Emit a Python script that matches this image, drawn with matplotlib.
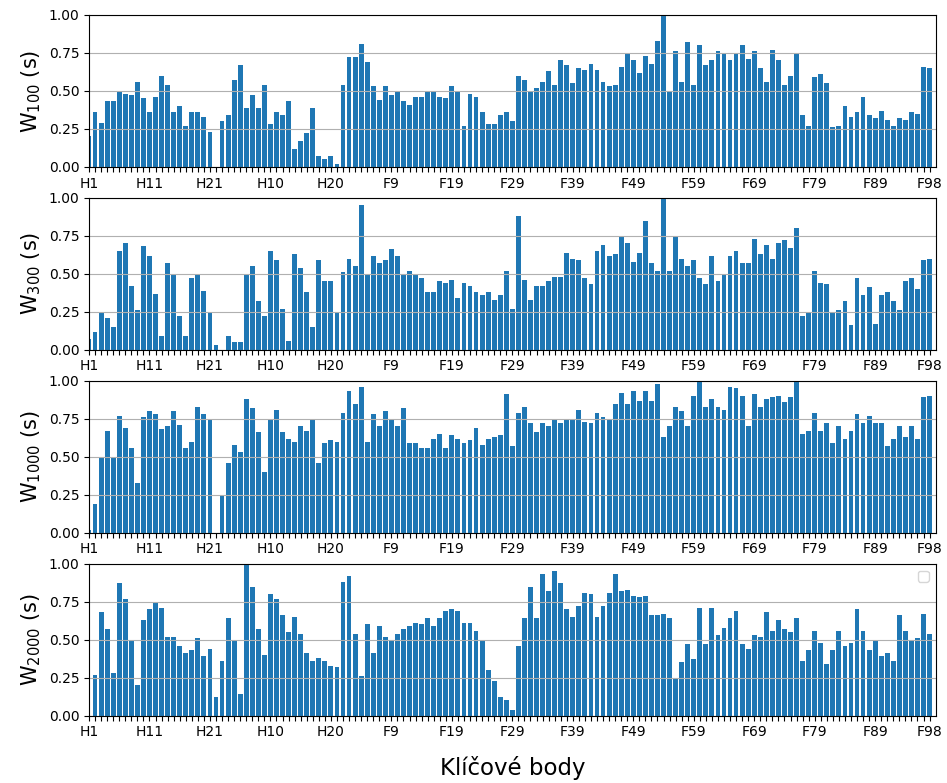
import matplotlib
matplotlib.use("Agg")
import matplotlib.pyplot as plt

# key point names: two hand groups H1-H21, then face points F1-F98
points = [f"H{i}" for i in range(1, 22)] * 2 + [f"F{i}" for i in range(1, 99)]

w100 = [0.20, 0.36, 0.29, 0.43, 0.43, 0.49, 0.48, 0.47, 0.56, 0.45,
        0.36, 0.46, 0.60, 0.54, 0.36, 0.40, 0.27, 0.36, 0.36, 0.33,
        0.23, 0.00, 0.30, 0.34, 0.57, 0.67, 0.39, 0.47, 0.39, 0.54,
        0.28, 0.36, 0.34, 0.43, 0.12, 0.17, 0.22, 0.39, 0.07, 0.05,
        0.07, 0.02, 0.54, 0.72, 0.72, 0.81, 0.69, 0.53, 0.44, 0.53,
        0.47, 0.49, 0.43, 0.41, 0.46, 0.46, 0.49, 0.49, 0.46, 0.45,
        0.53, 0.49, 0.27, 0.48, 0.46, 0.36, 0.28, 0.28, 0.34, 0.36,
        0.30, 0.60, 0.57, 0.50, 0.52, 0.56, 0.63, 0.54, 0.70, 0.67,
        0.55, 0.65, 0.64, 0.68, 0.64, 0.56, 0.53, 0.54, 0.66, 0.74,
        0.70, 0.62, 0.73, 0.68, 0.83, 1.00, 0.50, 0.76, 0.56, 0.82,
        0.54, 0.80, 0.67, 0.70, 0.76, 0.74, 0.70, 0.75, 0.80, 0.71,
        0.76, 0.65, 0.56, 0.77, 0.70, 0.54, 0.60, 0.74, 0.34, 0.27,
        0.59, 0.61, 0.55, 0.26, 0.27, 0.40, 0.33, 0.36, 0.46, 0.34,
        0.32, 0.37, 0.31, 0.27, 0.32, 0.31, 0.36, 0.35, 0.66, 0.65]

w300 = [0.07, 0.12, 0.25, 0.21, 0.15, 0.65, 0.70, 0.42, 0.26, 0.68,
        0.62, 0.37, 0.09, 0.57, 0.50, 0.22, 0.09, 0.47, 0.49, 0.39,
        0.25, 0.03, 0.00, 0.09, 0.05, 0.05, 0.50, 0.55, 0.32, 0.22,
        0.65, 0.59, 0.27, 0.06, 0.63, 0.54, 0.38, 0.15, 0.59, 0.45,
        0.45, 0.24, 0.51, 0.60, 0.55, 0.95, 0.49, 0.62, 0.57, 0.59,
        0.66, 0.62, 0.50, 0.52, 0.50, 0.47, 0.38, 0.38, 0.45, 0.44,
        0.46, 0.34, 0.44, 0.42, 0.38, 0.36, 0.38, 0.33, 0.36, 0.52,
        0.27, 0.88, 0.46, 0.33, 0.42, 0.42, 0.45, 0.48, 0.48, 0.64,
        0.60, 0.59, 0.47, 0.43, 0.65, 0.69, 0.62, 0.63, 0.74, 0.70,
        0.58, 0.64, 0.85, 0.57, 0.52, 1.00, 0.52, 0.74, 0.60, 0.55,
        0.59, 0.47, 0.43, 0.62, 0.45, 0.49, 0.62, 0.65, 0.57, 0.57,
        0.73, 0.63, 0.69, 0.60, 0.70, 0.72, 0.67, 0.80, 0.22, 0.25,
        0.52, 0.44, 0.43, 0.25, 0.26, 0.32, 0.16, 0.47, 0.36, 0.41,
        0.17, 0.36, 0.38, 0.32, 0.26, 0.45, 0.47, 0.40, 0.59, 0.60]

w1000 = [0.02, 0.19, 0.50, 0.67, 0.49, 0.77, 0.69, 0.56, 0.33, 0.76,
         0.80, 0.78, 0.68, 0.70, 0.80, 0.71, 0.56, 0.60, 0.83, 0.78,
         0.75, 0.00, 0.25, 0.46, 0.58, 0.53, 0.88, 0.82, 0.66, 0.40,
         0.74, 0.81, 0.66, 0.62, 0.60, 0.70, 0.67, 0.74, 0.46, 0.59,
         0.61, 0.60, 0.79, 0.93, 0.85, 0.96, 0.60, 0.78, 0.70, 0.80,
         0.75, 0.70, 0.82, 0.59, 0.59, 0.56, 0.56, 0.62, 0.65, 0.56,
         0.64, 0.62, 0.59, 0.61, 0.69, 0.58, 0.62, 0.63, 0.64, 0.91,
         0.57, 0.79, 0.83, 0.72, 0.66, 0.72, 0.70, 0.75, 0.72, 0.75,
         0.74, 0.81, 0.73, 0.72, 0.79, 0.76, 0.74, 0.85, 0.92, 0.85,
         0.93, 0.87, 0.93, 0.87, 0.98, 0.63, 0.70, 0.83, 0.80, 0.70,
         0.90, 1.00, 0.83, 0.88, 0.83, 0.81, 0.96, 0.95, 0.90, 0.70,
         0.91, 0.83, 0.88, 0.89, 0.90, 0.86, 0.89, 1.00, 0.65, 0.67,
         0.79, 0.67, 0.72, 0.59, 0.70, 0.62, 0.67, 0.78, 0.72, 0.77,
         0.72, 0.72, 0.57, 0.62, 0.70, 0.63, 0.70, 0.62, 0.89, 0.90]

w2000 = [0.00, 0.27, 0.68, 0.57, 0.28, 0.87, 0.77, 0.49, 0.20, 0.63,
         0.70, 0.75, 0.71, 0.52, 0.52, 0.46, 0.41, 0.43, 0.51, 0.39,
         0.44, 0.12, 0.36, 0.64, 0.49, 0.14, 1.00, 0.85, 0.57, 0.40,
         0.80, 0.77, 0.66, 0.55, 0.65, 0.54, 0.41, 0.36, 0.38, 0.36,
         0.33, 0.32, 0.88, 0.92, 0.54, 0.26, 0.60, 0.41, 0.59, 0.52,
         0.50, 0.54, 0.57, 0.59, 0.61, 0.60, 0.64, 0.59, 0.64, 0.69,
         0.70, 0.69, 0.61, 0.61, 0.56, 0.49, 0.30, 0.23, 0.12, 0.10,
         0.04, 0.46, 0.64, 0.85, 0.64, 0.93, 0.82, 0.95, 0.87, 0.70,
         0.65, 0.72, 0.81, 0.80, 0.65, 0.72, 0.81, 0.93, 0.82, 0.83,
         0.79, 0.78, 0.79, 0.66, 0.66, 0.67, 0.64, 0.25, 0.35, 0.47,
         0.37, 0.71, 0.47, 0.71, 0.53, 0.58, 0.64, 0.69, 0.47, 0.44,
         0.53, 0.52, 0.68, 0.56, 0.63, 0.57, 0.55, 0.64, 0.36, 0.43,
         0.56, 0.48, 0.34, 0.43, 0.56, 0.46, 0.48, 0.70, 0.56, 0.43,
         0.49, 0.39, 0.41, 0.36, 0.66, 0.56, 0.50, 0.51, 0.67, 0.54]

windows = ["100", "300", "1000", "2000"]
series = [w100, w300, w1000, w2000]

fig, axes = plt.subplots(4, 1, figsize=(9.47, 7.83), dpi=100)
fig.subplots_adjust(left=0.094, right=0.988, top=0.981, bottom=0.086, hspace=0.204)

x = list(range(len(points)))
# label every 10th point plus the last one
tick_labels = [p if (i % 10 == 0 or i == len(points) - 1) else "" for i, p in enumerate(points)]

for ax, win, vals in zip(axes, windows, series):
    ax.bar(x, vals, width=0.8, color="#1f77b4")
    ax.set_xlim(0, len(points))
    ax.set_ylim(0, 1)
    ax.set_yticks([0, 0.25, 0.5, 0.75, 1.0])
    ax.set_yticklabels(["0.00", "0.25", "0.50", "0.75", "1.00"])
    ax.set_xticks(x)
    ax.set_xticklabels(tick_labels)
    ax.tick_params(labelsize=10)
    ax.grid(True, axis="y")
    ax.set_ylabel(f"W$_{{{win}}}$ (s)", fontsize=15)

# empty legend box on the last panel
axes[-1].legend(loc="upper right")
axes[-1].set_xlabel("Klíčové body", fontsize=16.5, labelpad=12)

fig.savefig("out.png", dpi=100)
plt.close()
